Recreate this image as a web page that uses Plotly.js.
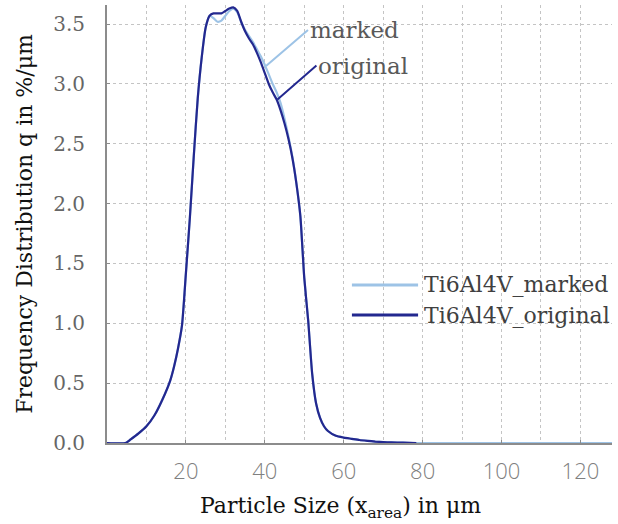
<!DOCTYPE html>
<html>
<head>
<meta charset="utf-8">
<script src="https://cdn.plot.ly/plotly-3.0.1.min.js"></script>
<style>html,body{margin:0;padding:0;background:#fff;}#chart{width:618px;height:524px;}</style>
</head>
<body>
<div id="chart"></div>
<script>
// Particle size (µm) and frequency distribution q (%/µm)
const sizeOriginal = [0, 4.7, 6, 8, 10, 12, 14, 16, 17, 18, 19, 20, 21, 22, 23, 24, 25, 26, 27, 28, 29, 30, 31, 32, 33, 34, 35, 36, 37, 38, 39, 40, 41, 42, 43, 44, 45, 46, 47, 48, 49, 50, 51, 52, 53, 54, 55, 56, 58, 60, 62, 64, 66, 68, 70, 72, 75, 78.4];
const qOriginal = [0, 0, 0.03, 0.08, 0.14, 0.23, 0.36, 0.52, 0.64, 0.79, 0.98, 1.42, 1.88, 2.4, 2.88, 3.22, 3.47, 3.57, 3.59, 3.59, 3.59, 3.61, 3.63, 3.64, 3.61, 3.52, 3.44, 3.38, 3.33, 3.26, 3.18, 3.09, 3.0, 2.93, 2.87, 2.78, 2.67, 2.54, 2.38, 2.17, 1.9, 1.38, 1.02, 0.58, 0.33, 0.21, 0.14, 0.1, 0.06, 0.045, 0.035, 0.025, 0.018, 0.012, 0.008, 0.005, 0.003, 0];

const sizeMarked = [0, 4.7, 6, 8, 10, 12, 14, 16, 17, 18, 19, 20, 21, 22, 23, 24, 25, 26, 27, 28, 29, 30, 31, 32, 33, 34, 35, 36, 37, 38, 39, 40, 41, 42, 43, 44, 45, 46, 47, 48, 49, 50, 51, 52, 53, 54, 55, 56, 58, 60, 62, 64, 66, 68, 70, 72, 75, 78.4, 90, 110, 128];
const qMarked = [0, 0, 0.03, 0.08, 0.14, 0.23, 0.36, 0.52, 0.64, 0.79, 0.98, 1.42, 1.88, 2.4, 2.88, 3.22, 3.47, 3.57, 3.55, 3.52, 3.53, 3.57, 3.61, 3.63, 3.6, 3.52, 3.45, 3.4, 3.35, 3.29, 3.23, 3.16, 3.08, 3.0, 2.93, 2.84, 2.71, 2.56, 2.39, 2.17, 1.9, 1.38, 1.02, 0.58, 0.33, 0.21, 0.14, 0.1, 0.06, 0.045, 0.035, 0.025, 0.018, 0.012, 0.008, 0.005, 0.003, 0, 0, 0, 0];

const xTicks = [20, 40, 60, 80, 100, 120];
const seriesNames = ['Ti6Al4V_marked', 'Ti6Al4V_original'];
const calloutLabels = ['marked', 'original'];
const calloutPoints = [[40.3, 3.15], [43.2, 2.87]];

const colMarked = '#9dc3e6';
const colOriginal = '#23288f';
const serif = 'DejaVu Serif, serif';
const sans = 'Open Sans, sans-serif';

const traces = [
  {x: sizeMarked, y: qMarked, name: seriesNames[0], type: 'scatter', mode: 'lines', showlegend: false,
   line: {color: colMarked, width: 2.2, shape: 'spline', smoothing: 0.6}},
  {x: sizeOriginal, y: qOriginal, name: seriesNames[1], type: 'scatter', mode: 'lines', showlegend: false,
   line: {color: colOriginal, width: 2.2, shape: 'spline', smoothing: 0.6}}
];

// legend drawn as shapes + text so the sample lines match the reference length
const legendRows = [0.361, 0.292];
const legendColors = [colMarked, colOriginal];
const shapes = legendRows.map((yy, i) => ({
  type: 'line', xref: 'paper', yref: 'paper', x0: 0.485, x1: 0.616, y0: yy, y1: yy,
  line: {color: legendColors[i], width: 3}
}));

const annotations = [
  {x: calloutPoints[0][0], y: calloutPoints[0][1], xref: 'x', yref: 'y', text: calloutLabels[0],
   showarrow: true, arrowhead: 0, arrowwidth: 2, arrowcolor: colMarked, ax: 42, ay: -36,
   xanchor: 'left', yanchor: 'middle', font: {family: serif, size: 23, color: '#595959'}},
  {x: calloutPoints[1][0], y: calloutPoints[1][1], xref: 'x', yref: 'y', text: calloutLabels[1],
   showarrow: true, arrowhead: 0, arrowwidth: 2, arrowcolor: colOriginal, ax: 39, ay: -34,
   xanchor: 'left', yanchor: 'middle', font: {family: serif, size: 23, color: '#595959'}},
  {x: 0.463, y: -0.148, xref: 'paper', yref: 'paper', showarrow: false,
   text: 'Particle Size (x<sub>area</sub>) in μm', xanchor: 'center', yanchor: 'middle',
   font: {family: serif, size: 22, color: '#111'}}
].concat(legendRows.map((yy, i) => ({
  x: 0.624, y: yy, xref: 'paper', yref: 'paper', showarrow: false, text: seriesNames[i],
  xanchor: 'left', yanchor: 'middle', font: {family: serif, size: 22, color: '#404040'}
})));

const layout = {
  width: 618, height: 524,
  margin: {l: 107, r: 6, t: 5, b: 81},
  paper_bgcolor: '#fff', plot_bgcolor: '#fff',
  showlegend: false,
  xaxis: {
    range: [0, 128], tickvals: xTicks, ticktext: xTicks.map(String),
    showgrid: true, gridcolor: '#c4c4c4', griddash: 'dot', gridwidth: 1,
    minor: {dtick: 10, tick0: 0, showgrid: true, gridcolor: '#c4c4c4', griddash: 'dot', gridwidth: 1},
    showline: true, linecolor: '#8c8c8c', linewidth: 2, zeroline: false,
    ticks: 'inside', ticklen: 3, tickcolor: '#8c8c8c',
    tickfont: {family: sans, size: 22, color: '#808080', weight: 300}, ticklabelstandoff: 8
  },
  yaxis: {
    range: [0, 3.66], dtick: 0.5, tick0: 0, tickformat: '.1f',
    showgrid: true, gridcolor: '#c4c4c4', griddash: 'dot', gridwidth: 1,
    showline: true, linecolor: '#8c8c8c', linewidth: 2, zeroline: false,
    ticks: 'inside', ticklen: 3, tickcolor: '#8c8c8c',
    tickfont: {family: serif, size: 20, color: '#666'}, ticklabelstandoff: 16,
    title: {text: 'Frequency Distribution q in %/μm', font: {family: serif, size: 22, color: '#111'}, standoff: 14}
  },
  shapes: shapes,
  annotations: annotations
};

Plotly.newPlot('chart', traces, layout, {displayModeBar: false, staticPlot: true});
</script>
</body>
</html>
